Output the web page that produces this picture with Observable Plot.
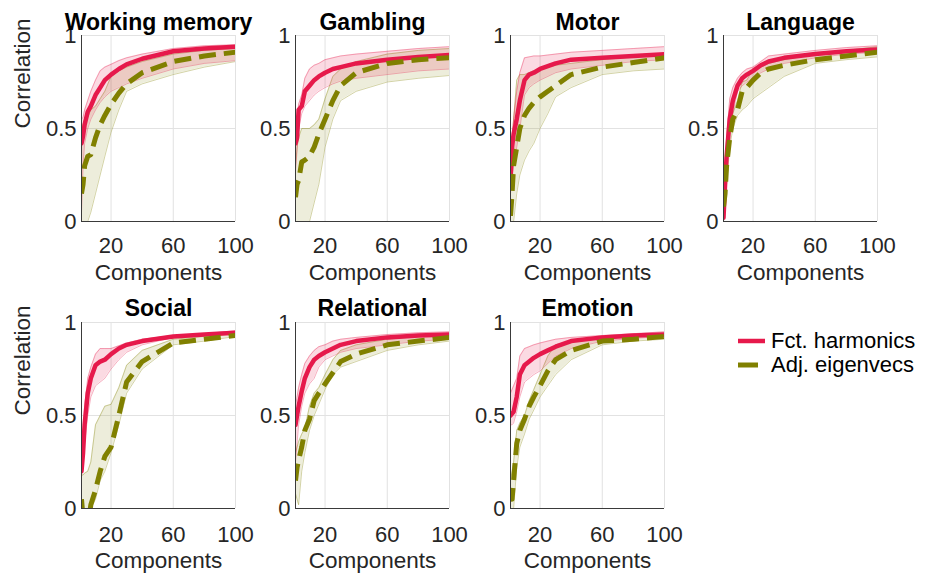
<!DOCTYPE html>
<html><head><meta charset="utf-8">
<script src="https://cdn.jsdelivr.net/npm/d3@7"></script>
<script src="https://cdn.jsdelivr.net/npm/@observablehq/plot@0.6"></script>
<style>
body{margin:0;background:#fff;}
#chart{position:relative;width:928px;height:574px;overflow:hidden;font-family:"Liberation Sans",Arial,sans-serif;background:#fff;}
.panel{position:absolute;}
.legend{position:absolute;left:738px;top:329px;font-size:22px;color:#000;line-height:24px;}
.legend .item{display:flex;align-items:center;height:24px;}
.legend svg{display:block;margin-right:5px;}
</style></head>
<body><div id="chart"></div>
<script>
// ---------- data ----------
const components = [1, 2, 3, 5, 7, 10, 13, 16, 20, 25, 30, 40, 60, 80, 100];
const xTicks = [20, 60, 100];
const xTickLabels = ["20", "60", "100"];
const yTicks = [0, 0.5, 1];
const yTickLabels = ["0", "0.5", "1"];
const taskNames = ["Working memory", "Gambling", "Motor", "Language", "Social", "Relational", "Emotion"];
const seriesNames = ["Fct. harmonics", "Adj. eigenvecs"];

// Working memory
const wmFctMean = [0.42,0.46,0.52,0.59,0.62,0.68,0.72,0.76,0.79,0.82,0.845,0.875,0.915,0.93,0.94];
const wmFctHi   = [0.55,0.56,0.60,0.65,0.70,0.76,0.81,0.83,0.845,0.865,0.88,0.90,0.93,0.945,0.95];
const wmFctLo   = [0.05,0.30,0.42,0.50,0.55,0.60,0.64,0.67,0.70,0.72,0.74,0.77,0.82,0.85,0.865];
const wmAdjMean = [0.15,0.20,0.30,0.35,0.36,0.45,0.52,0.57,0.63,0.69,0.74,0.80,0.86,0.89,0.91];
const wmAdjHi   = [0.50,0.52,0.55,0.56,0.60,0.62,0.66,0.70,0.78,0.81,0.83,0.86,0.90,0.92,0.93];
const wmAdjLo   = [0,0,0,0,0.05,0.15,0.25,0.35,0.48,0.60,0.70,0.74,0.79,0.83,0.86];
// Gambling
const gaFctMean = [0.42,0.45,0.60,0.62,0.70,0.73,0.76,0.78,0.80,0.82,0.83,0.85,0.87,0.885,0.895];
const gaFctHi   = [0.50,0.55,0.63,0.68,0.77,0.82,0.84,0.85,0.87,0.88,0.89,0.90,0.915,0.93,0.94];
const gaFctLo   = [0.27,0.38,0.50,0.58,0.62,0.65,0.68,0.70,0.72,0.74,0.755,0.77,0.79,0.81,0.82];
const gaAdjMean = [0.13,0.20,0.22,0.32,0.33,0.35,0.40,0.47,0.55,0.65,0.73,0.80,0.85,0.87,0.88];
const gaAdjHi   = [0.30,0.40,0.45,0.50,0.50,0.50,0.52,0.55,0.66,0.78,0.82,0.86,0.90,0.92,0.93];
const gaAdjLo   = [0,0,0,0,0,0,0.10,0.20,0.40,0.55,0.65,0.70,0.75,0.77,0.785];
// Motor
const moFctMean = [0.22,0.40,0.47,0.55,0.65,0.76,0.79,0.80,0.82,0.835,0.85,0.87,0.88,0.89,0.90];
const moFctHi   = [0.30,0.45,0.55,0.70,0.80,0.88,0.885,0.89,0.89,0.895,0.90,0.91,0.92,0.93,0.94];
const moFctLo   = [0.15,0.25,0.30,0.40,0.50,0.68,0.72,0.74,0.76,0.78,0.80,0.82,0.84,0.86,0.87];
const moAdjMean = [0.03,0.15,0.30,0.40,0.50,0.57,0.61,0.64,0.67,0.70,0.73,0.79,0.83,0.855,0.88];
const moAdjHi   = [0.20,0.40,0.55,0.76,0.79,0.79,0.80,0.81,0.82,0.83,0.84,0.85,0.87,0.885,0.905];
const moAdjLo   = [0,0,0,0.15,0.25,0.33,0.38,0.42,0.50,0.58,0.67,0.72,0.79,0.81,0.82];
// Language
const laFctMean = [0.02,0.20,0.35,0.55,0.65,0.73,0.77,0.79,0.81,0.84,0.86,0.88,0.90,0.915,0.925];
const laFctHi   = [0.10,0.30,0.45,0.66,0.72,0.77,0.80,0.82,0.83,0.86,0.89,0.90,0.92,0.935,0.945];
const laFctLo   = [0,0.10,0.25,0.50,0.58,0.70,0.73,0.75,0.77,0.80,0.82,0.85,0.88,0.90,0.91];
const laAdjMean = [0.08,0.15,0.30,0.45,0.55,0.60,0.70,0.72,0.76,0.80,0.82,0.84,0.87,0.89,0.91];
const laAdjHi   = [0.12,0.25,0.35,0.50,0.58,0.65,0.75,0.76,0.82,0.83,0.85,0.87,0.90,0.92,0.94];
const laAdjLo   = [0,0.10,0.20,0.40,0.50,0.57,0.60,0.62,0.66,0.69,0.72,0.78,0.85,0.87,0.885];
// Social
const soFctMean = [0.20,0.30,0.45,0.62,0.70,0.77,0.79,0.80,0.83,0.86,0.88,0.90,0.925,0.935,0.945];
const soFctHi   = [0.22,0.40,0.55,0.70,0.76,0.83,0.86,0.86,0.86,0.875,0.89,0.91,0.93,0.94,0.955];
const soFctLo   = [0.17,0.25,0.35,0.50,0.60,0.66,0.68,0.70,0.75,0.80,0.84,0.88,0.92,0.93,0.94];
const soAdjMean = [0.05,-0.05,-0.10,-0.10,0.02,0.10,0.20,0.28,0.33,0.50,0.68,0.79,0.89,0.91,0.93];
const soAdjHi   = [0.18,0.18,0.19,0.20,0.25,0.45,0.50,0.55,0.56,0.65,0.77,0.85,0.91,0.925,0.94];
const soAdjLo   = [0,0,0,0,0,0.05,0.15,0.20,0.30,0.45,0.62,0.75,0.88,0.90,0.925];
// Relational
const reFctMean = [0.45,0.50,0.55,0.63,0.70,0.76,0.80,0.82,0.84,0.86,0.88,0.90,0.92,0.93,0.935];
const reFctHi   = [0.55,0.60,0.65,0.72,0.78,0.82,0.85,0.87,0.88,0.90,0.91,0.92,0.935,0.945,0.95];
const reFctLo   = [0.25,0.35,0.45,0.55,0.62,0.67,0.70,0.76,0.80,0.82,0.84,0.86,0.88,0.90,0.91];
const reAdjMean = [0.15,0.22,0.26,0.33,0.42,0.48,0.58,0.62,0.67,0.73,0.79,0.83,0.88,0.90,0.92];
const reAdjHi   = [0.30,0.33,0.36,0.40,0.43,0.55,0.62,0.65,0.72,0.80,0.85,0.88,0.91,0.925,0.94];
const reAdjLo   = [0.08,0.05,0.02,0.20,0.30,0.42,0.50,0.56,0.64,0.72,0.76,0.79,0.85,0.88,0.90];
// Emotion
const emFctMean = [0.50,0.51,0.52,0.60,0.72,0.77,0.79,0.81,0.83,0.85,0.87,0.90,0.92,0.93,0.935];
const emFctHi   = [0.62,0.64,0.66,0.70,0.82,0.86,0.87,0.88,0.89,0.90,0.91,0.92,0.93,0.94,0.95];
const emFctLo   = [0.45,0.45,0.46,0.52,0.60,0.68,0.70,0.72,0.74,0.78,0.82,0.86,0.90,0.915,0.925];
const emAdjMean = [0.08,0.05,0.15,0.35,0.42,0.48,0.55,0.60,0.66,0.74,0.80,0.85,0.90,0.91,0.925];
const emAdjHi   = [0.15,0.20,0.25,0.42,0.46,0.50,0.58,0.64,0.72,0.82,0.88,0.90,0.92,0.93,0.94];
const emAdjLo   = [0,0,0,0.22,0.33,0.40,0.48,0.53,0.60,0.66,0.72,0.80,0.88,0.90,0.91];

// ---------- style ----------
const RED = "#e6194b";
const OLIVE = "#808000";
const FONT = "Liberation Sans, Arial, Helvetica, sans-serif";

const panelData = [
  [wmFctMean, wmFctLo, wmFctHi, wmAdjMean, wmAdjLo, wmAdjHi],
  [gaFctMean, gaFctLo, gaFctHi, gaAdjMean, gaAdjLo, gaAdjHi],
  [moFctMean, moFctLo, moFctHi, moAdjMean, moAdjLo, moAdjHi],
  [laFctMean, laFctLo, laFctHi, laAdjMean, laAdjLo, laAdjHi],
  [soFctMean, soFctLo, soFctHi, soAdjMean, soAdjLo, soAdjHi],
  [reFctMean, reFctLo, reFctHi, reAdjMean, reAdjLo, reAdjHi],
  [emFctMean, emFctLo, emFctHi, emAdjMean, emAdjLo, emAdjHi]
];

const plotLefts = [81, 295, 510, 723];
const rowTops = [0, 287];
const ML = 81, MT = 35, PW = 154, PH = 186;

const chart = document.getElementById("chart");

panelData.forEach((arrs, k) => {
  const [fM, fL, fH, aM, aL, aH] = arrs;
  const rows = components.map((c, i) => ({c, fM: fM[i], fL: fL[i], fH: fH[i], aM: aM[i], aL: aL[i], aH: aH[i]}));
  const col = k % 4, row = Math.floor(k / 4);
  const tickPad = row === 0 ? 16 : 18;
  const labDy = row === 0 ? 58 : 59;
  const marks = [
    Plot.ruleX(xTicks, {stroke: "#e2e2e2", strokeWidth: 1}),
    Plot.ruleY(yTicks.slice(1), {stroke: "#e2e2e2", strokeWidth: 1}),
    Plot.areaY(rows, {x: "c", y1: "aL", y2: "aH", fill: OLIVE, fillOpacity: 0.14, clip: true}),
    Plot.lineY(rows, {x: "c", y: "aL", stroke: OLIVE, strokeOpacity: 0.35, strokeWidth: 1, clip: true}),
    Plot.lineY(rows, {x: "c", y: "aH", stroke: OLIVE, strokeOpacity: 0.35, strokeWidth: 1, clip: true}),
    Plot.areaY(rows, {x: "c", y1: "fL", y2: "fH", fill: RED, fillOpacity: 0.16, clip: true}),
    Plot.lineY(rows, {x: "c", y: "fL", stroke: RED, strokeOpacity: 0.35, strokeWidth: 1, clip: true}),
    Plot.lineY(rows, {x: "c", y: "fH", stroke: RED, strokeOpacity: 0.35, strokeWidth: 1, clip: true}),
    Plot.lineY(rows, {x: "c", y: "fM", stroke: RED, strokeWidth: 4.5, clip: true}),
    Plot.lineY(rows, {x: "c", y: "aM", stroke: OLIVE, strokeWidth: 5, strokeDasharray: "17,8", strokeLinecap: "butt", clip: true}),
    Plot.ruleX([1], {stroke: "#3a3a3a", strokeWidth: 1}),
    Plot.ruleY([0], {stroke: "#3a3a3a", strokeWidth: 1}),
    Plot.axisX({ticks: xTicks, tickFormat: d => xTickLabels[xTicks.indexOf(d)], tickSize: 0, tickPadding: tickPad, label: null, fontSize: 22, fill: "#262626"}),
    Plot.axisY({ticks: yTicks, tickFormat: d => yTickLabels[yTicks.indexOf(d)], tickSize: 0, tickPadding: 5, label: null, fontSize: 22, fill: "#262626"}),
    Plot.text([taskNames[k]], {frameAnchor: "top", dy: row === 0 ? -22 : -23, fontWeight: "bold", fontSize: 23, fill: "#000"}),
    Plot.text(["Components"], {frameAnchor: "bottom", dy: labDy, fontSize: 22.5, fill: "#262626"})
  ];
  if (col === 0) {
    marks.push(Plot.text(["Correlation"], {frameAnchor: "left", dx: -59, rotate: -90, fontSize: 22.5, fill: "#262626"}));
  }
  const svg = Plot.plot({
    width: ML + PW + 25, height: 287,
    marginLeft: ML, marginRight: 25, marginTop: MT, marginBottom: 287 - MT - PH,
    style: {background: "transparent", overflow: "visible", fontFamily: FONT, fontSize: "22px"},
    x: {type: "linear", domain: [1, 100], axis: null},
    y: {type: "linear", domain: [0, 1], axis: null},
    marks
  });
  const wrap = document.createElement("div");
  wrap.className = "panel";
  wrap.style.left = (plotLefts[col] - ML) + "px";
  wrap.style.top = rowTops[row] + "px";
  wrap.appendChild(svg);
  chart.appendChild(wrap);
});

// legend
const legend = document.createElement("div");
legend.className = "legend";
legend.innerHTML =
  `<div class="item"><svg width="28" height="10"><line x1="0" x2="27" y1="5" y2="5" stroke="${RED}" stroke-width="4.5"/></svg><span>${seriesNames[0]}</span></div>` +
  `<div class="item"><svg width="28" height="10"><line x1="0" x2="27" y1="5" y2="5" stroke="${OLIVE}" stroke-width="5" stroke-dasharray="20,10"/></svg><span>${seriesNames[1]}</span></div>`;
chart.appendChild(legend);
</script>
</body></html>
